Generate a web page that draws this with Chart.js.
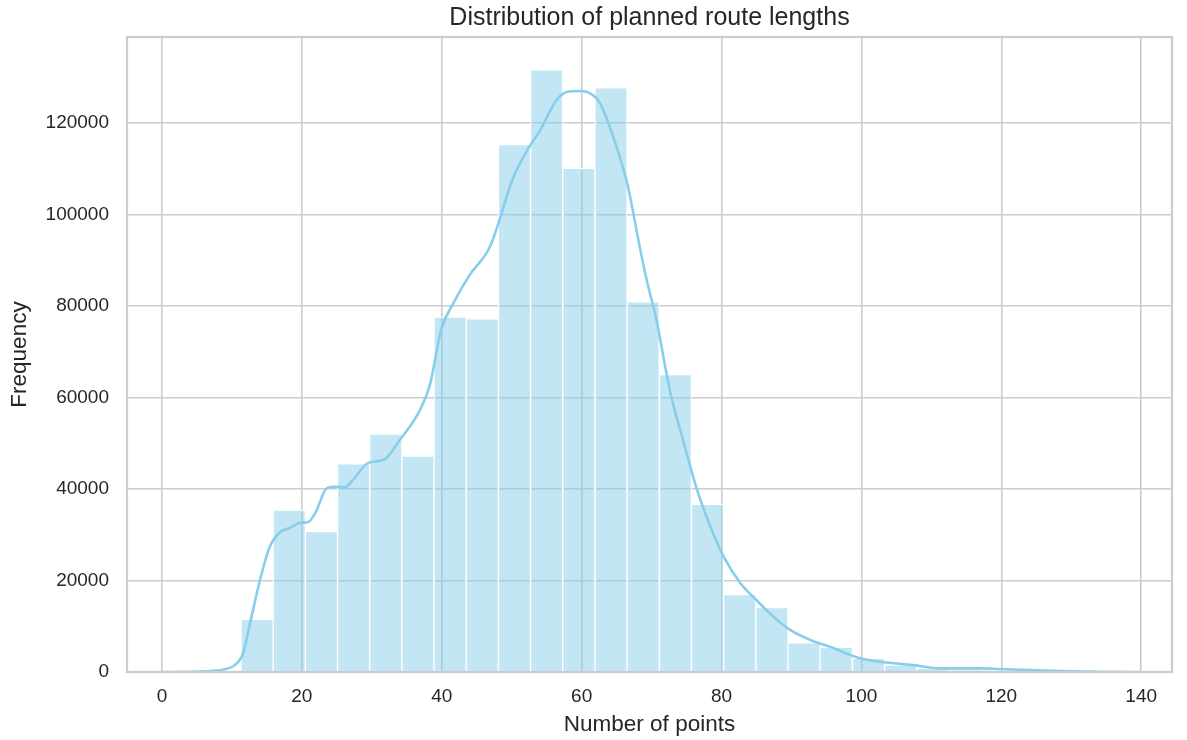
<!DOCTYPE html>
<html lang="en">
<head>
<meta charset="UTF-8">
<title>Distribution of planned route lengths</title>
<script src="https://cdn.jsdelivr.net/npm/chart.js@4.4.1/dist/chart.umd.min.js"></script>
<style>
  html, body { margin: 0; padding: 0; background: #ffffff; }
</style>
</head>
<body>
<canvas id="routes" width="1187" height="740"></canvas>
<script>
// histogram of route lengths (equal-width bins)
const binStart = 11.3;
const binWidth = 4.6;
const binCounts = [
  11500, 35400, 30700, 45500, 52000, 47200, 77600, 77200,
  115300, 131600, 110100, 127700, 80900, 65000, 36650, 16900,
  14100, 6400, 5400, 3000, 1500, 800, 400, 300, 200, 120, 60, 30
];

// smoothed density, scaled to counts
const kdeX = [
  0, 4, 7, 9, 10.4, 11.6, 12.6, 14.0, 15.4, 16.9, 18.3, 19.7, 20.9, 21.9,
  23.6, 25.0, 26.2, 27.3, 29.5, 31.7, 34.0, 36.9, 38.3, 39.9, 41.9, 44.0,
  46.9, 50.2, 52.2, 54.1, 56.4, 57.9, 59.8, 61.2, 62.6, 64.5, 66.5, 68.4,
  69.3, 70.7, 72.6, 74.5, 76.5, 78.4, 80.3, 82.7, 85.0, 87.4, 89.8, 92.7,
  95.5, 99.8, 102.7, 107.4, 111.3, 117.0, 119.8, 124.1, 128.4, 134.1, 139.9
];
const kdeY = [
  0, 50, 200, 600, 1500, 4100, 10700, 20000, 27300, 30600, 31500, 32600, 32800, 34700,
  40200, 40500, 40400, 42000, 45700, 46400, 50700, 57300, 62700, 74700, 81300, 86800,
  93000, 108000, 114000, 118500, 125000, 126800, 127000, 126500, 124400, 117000, 106900, 92200,
  85700, 76900, 61600, 50700, 39800, 31800, 25200, 19400, 15700, 12100, 9200, 7000,
  5500, 3000, 2250, 1500, 800, 800, 650, 400, 200, 50, 0
];

const xTicks = [0, 20, 40, 60, 80, 100, 120, 140];
const yTicks = [0, 20000, 40000, 60000, 80000, 100000, 120000];

const font = '"Liberation Sans", Arial, sans-serif';
const textColor = '#262626';
const gridColor = '#cccccc';

const bars = binCounts.map((c, i) => ({ x: binStart + binWidth * (i + 0.5), y: c }));
const curve = kdeX.map((x, i) => ({ x: x, y: kdeY[i] }));

// all four spines, drawn over the bars
const frame = {
  id: 'frame',
  afterDatasetsDraw(chart) {
    const { ctx, chartArea: a } = chart;
    ctx.save();
    ctx.strokeStyle = gridColor;
    ctx.lineWidth = 2.2;
    ctx.strokeRect(a.left, a.top, a.right - a.left, a.bottom - a.top);
    ctx.restore();
  }
};

new Chart(document.getElementById('routes'), {
  type: 'bar',
  data: {
    datasets: [
      {
        type: 'line',
        data: curve,
        borderColor: '#87ceeb',
        borderWidth: 2.6,
        pointRadius: 0,
        cubicInterpolationMode: 'monotone',
        fill: false,
        order: 0
      },
      {
        type: 'bar',
        data: bars,
        backgroundColor: 'rgba(135, 206, 235, 0.5)',
        borderColor: '#ffffff',
        borderWidth: 1,
        categoryPercentage: 1,
        barPercentage: 1,
        order: 1
      }
    ]
  },
  options: {
    responsive: false,
    animation: false,
    layout: { padding: { left: 0, right: 15, top: 0, bottom: 0 } },
    plugins: {
      legend: { display: false },
      tooltip: { enabled: false },
      title: {
        display: true,
        text: 'Distribution of planned route lengths',
        fullSize: false,
        color: textColor,
        font: { family: font, size: 25, weight: 'normal' },
        padding: { top: 3, bottom: 4 }
      }
    },
    scales: {
      x: {
        type: 'linear',
        min: -5,
        max: 144.4,
        offset: false,
        afterBuildTicks: s => { s.ticks = xTicks.map(v => ({ value: v })); },
        afterFit: s => { s.height = 68; },
        grid: { color: gridColor, lineWidth: 1.6, drawTicks: false, offset: false },
        border: { display: false },
        ticks: {
          color: textColor,
          padding: 13,
          maxRotation: 0,
          font: { family: font, size: 19 },
          callback: v => String(v)
        },
        title: {
          display: true,
          text: 'Number of points',
          color: textColor,
          font: { family: font, size: 22.5 },
          padding: { top: 0, bottom: 2 }
        }
      },
      y: {
        min: 0,
        max: 138800,
        afterBuildTicks: s => { s.ticks = yTicks.map(v => ({ value: v })); },
        afterFit: s => { s.width = 127; },
        grid: { color: gridColor, lineWidth: 1.6, drawTicks: false },
        border: { display: false },
        ticks: {
          color: textColor,
          padding: 18,
          font: { family: font, size: 19 },
          callback: v => String(v)
        },
        title: {
          display: true,
          text: 'Frequency',
          color: textColor,
          font: { family: font, size: 22.5 },
          padding: { top: 6, bottom: 0 }
        }
      }
    }
  },
  plugins: [frame]
});
</script>
</body>
</html>
